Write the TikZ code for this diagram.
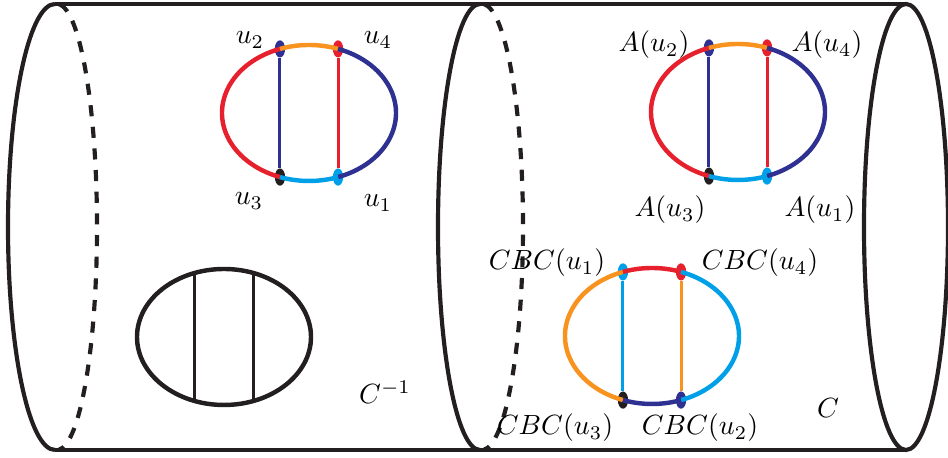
\documentclass[tikz,border=0pt]{standalone}
\usetikzlibrary{shapes.geometric}
\definecolor{tubeblack}{HTML}{231F20}
\definecolor{graphred}{HTML}{E6202C}
\definecolor{graphnavy}{HTML}{2E3192}
\definecolor{graphorange}{HTML}{F7931E}
\definecolor{graphcyan}{HTML}{00A0E9}

\begin{document}
\begin{tikzpicture}[
  x=0.36pt,y=0.36pt,
  wall/.style={tubeblack,line width=1.5pt},
  backwall/.style={tubeblack,line width=1.5pt,dash pattern=on 4pt off 3.8pt},
  loopline/.style={line width=1.6pt},
  rung/.style={line width=1.1pt},
  vtx/.style={ellipse,inner sep=0pt,minimum width=3.7pt,minimum height=6.2pt},
  every node/.style={font=\normalsize}
]
  \useasboundingbox (0,0) rectangle (948,458);

  % the tube
  \coordinate (lt) at (55,454);
  \coordinate (lb) at (55,8);
  \coordinate (mt) at (480,454);
  \coordinate (rt) at (906,454);
  \coordinate (rb) at (906,8);
  \draw[wall] (lt) -- (rt);
  \draw[wall] (lb) -- (rb);
  \draw[wall] (lt) arc[start angle=90,end angle=270,x radius=47,y radius=223];
  \draw[wall] (mt) arc[start angle=90,end angle=270,x radius=42,y radius=223];
  \draw[wall] (906,231) ellipse[x radius=42,y radius=223];
  \draw[backwall] (57,231) ++(87:40 and 223)
    arc[start angle=87,end angle=-87,x radius=40,y radius=223];
  \draw[backwall] (482,231) ++(87:41 and 223)
    arc[start angle=87,end angle=-87,x radius=41,y radius=223];

  % graph with labels u_i
  \begin{scope}[shift={(309,345)}]
    \node[vtx,fill=graphnavy] (a2) at (109.5:87 and 68) {};
    \node[vtx,fill=graphred] (a4) at (70.5:87 and 68) {};
    \node[vtx,fill=tubeblack] (a3) at (250.5:87 and 68) {};
    \node[vtx,fill=graphcyan] (a1) at (289.5:87 and 68) {};
    \draw[loopline,graphred] (a2.center) arc[start angle=109.5,end angle=250.5,x radius=87,y radius=68];
    \draw[loopline,graphorange] (a4.center) arc[start angle=70.5,end angle=109.5,x radius=87,y radius=68];
    \draw[loopline,graphnavy] (a1.center) arc[start angle=-70.5,end angle=70.5,x radius=87,y radius=68];
    \draw[loopline,graphcyan] (a3.center) arc[start angle=250.5,end angle=289.5,x radius=87,y radius=68];
    \draw[rung,graphnavy] (a2) -- (a3);
    \draw[rung,graphred] (a4) -- (a1);
  \end{scope}
  \node (la2) at (250,418) {$u_2$};
  \node (la4) at (378,418) {$u_4$};
  \node (la3) at (249,257) {$u_3$};
  \node (la1) at (378,255) {$u_1$};

  % graph with labels A(u_i)
  \begin{scope}[shift={(738,346)}]
    \node[vtx,fill=graphnavy] (b2) at (109.5:87 and 68) {};
    \node[vtx,fill=graphred] (b4) at (70.5:87 and 68) {};
    \node[vtx,fill=tubeblack] (b3) at (250.5:87 and 68) {};
    \node[vtx,fill=graphcyan] (b1) at (289.5:87 and 68) {};
    \draw[loopline,graphred] (b2.center) arc[start angle=109.5,end angle=250.5,x radius=87,y radius=68];
    \draw[loopline,graphorange] (b4.center) arc[start angle=70.5,end angle=109.5,x radius=87,y radius=68];
    \draw[loopline,graphnavy] (b1.center) arc[start angle=-70.5,end angle=70.5,x radius=87,y radius=68];
    \draw[loopline,graphcyan] (b3.center) arc[start angle=250.5,end angle=289.5,x radius=87,y radius=68];
    \draw[rung,graphnavy] (b2) -- (b3);
    \draw[rung,graphred] (b4) -- (b1);
  \end{scope}
  \node (lb2) at (654,413) {$A(u_2)$};
  \node (lb4) at (827,413) {$A(u_4)$};
  \node (lb3) at (670,248) {$A(u_3)$};
  \node (lb1) at (820,248) {$A(u_1)$};

  % graph with labels CBC(u_i)
  \begin{scope}[shift={(652,122)}]
    \node[vtx,fill=graphcyan] (c1) at (109.5:87 and 68) {};
    \node[vtx,fill=graphred] (c4) at (70.5:87 and 68) {};
    \node[vtx,fill=tubeblack] (c3) at (250.5:87 and 68) {};
    \node[vtx,fill=graphnavy] (c2) at (289.5:87 and 68) {};
    \draw[loopline,graphorange] (c1.center) arc[start angle=109.5,end angle=250.5,x radius=87,y radius=68];
    \draw[loopline,graphred] (c4.center) arc[start angle=70.5,end angle=109.5,x radius=87,y radius=68];
    \draw[loopline,graphcyan] (c2.center) arc[start angle=-70.5,end angle=70.5,x radius=87,y radius=68];
    \draw[loopline,graphnavy] (c3.center) arc[start angle=250.5,end angle=289.5,x radius=87,y radius=68];
    \draw[rung,graphcyan] (c1) -- (c3);
    \draw[rung,graphorange] (c4) -- (c2);
  \end{scope}
  \node (lc1) at (547,195) {$CBC(u_1)$};
  \node (lc4) at (760,195) {$CBC(u_4)$};
  \node (lc3) at (555,30) {$CBC(u_3)$};
  \node (lc2) at (700,30) {$CBC(u_2)$};

  % plain graph
  \begin{scope}[shift={(224,121)}]
    \coordinate (d1) at (109.5:87 and 68);
    \coordinate (d4) at (70.5:87 and 68);
    \coordinate (d3) at (250.5:87 and 68);
    \coordinate (d2) at (289.5:87 and 68);
    \draw[loopline,tubeblack] (0,0) ellipse[x radius=87,y radius=68];
    \draw[rung,tubeblack] (d1) -- (d3);
    \draw[rung,tubeblack] (d4) -- (d2);
  \end{scope}

  \node (cinv) at (385,66) {$C^{-1}$};
  \node (cmap) at (828,50) {$C$};
\end{tikzpicture}
\end{document}
